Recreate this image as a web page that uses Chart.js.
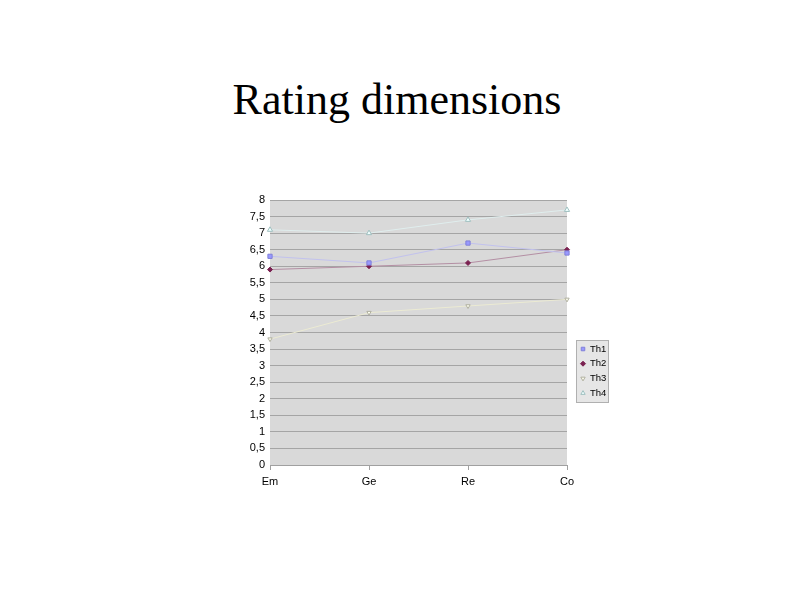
<!DOCTYPE html>
<html><head><meta charset="utf-8">
<script src="https://cdn.jsdelivr.net/npm/chart.js@4/dist/chart.umd.min.js"></script>
<style>
html,body{margin:0;padding:0;background:#fff;width:794px;height:595px;overflow:hidden;}
#title{position:absolute;left:0;top:74px;width:794px;text-align:center;font-family:"Liberation Serif","Times New Roman",serif;font-size:44px;color:#000;}
#wrap{position:absolute;left:230px;top:185px;width:390px;height:305px;}
</style></head><body>
<div id="title">Rating dimensions</div>
<div id="wrap"><canvas id="c" width="390" height="305"></canvas></div>
<script>
const categories = ["Em","Ge","Re","Co"];
const seriesNames = ["Th1","Th2","Th3","Th4"];
const th1 = [6.3, 6.1, 6.7, 6.4];
const th2 = [5.9, 6.0, 6.1, 6.5];
const th3 = [3.8, 4.6, 4.8, 5.0];
const th4 = [7.1, 7.0, 7.4, 7.7];
const yTicks = [0,0.5,1,1.5,2,2.5,3,3.5,4,4.5,5,5.5,6,6.5,7,7.5,8];

const styles = [
  {line:"#c2c2ee", fill:"#9999ff", border:"#8080d8", ps:"rect", rot:0, r:3},
  {line:"#b48fa4", fill:"#7a2050", border:"#7a2050", ps:"rectRot", rot:0, r:2.5},
  {line:"#ecebd3", fill:"#fffff0", border:"#b0b0a0", ps:"triangle", rot:180, r:2.5},
  {line:"#e0eeee", fill:"#f0ffff", border:"#a0c0c0", ps:"triangle", rot:0, r:3}
];
const allData = [th1, th2, th3, th4];

const bgPlugin = {
  id:"bg",
  beforeDraw(chart){
    const {ctx, chartArea:a} = chart;
    ctx.save(); ctx.fillStyle="#d9d9d9"; ctx.fillRect(a.left,a.top,a.right-a.left,a.bottom-a.top); ctx.restore();
  }
};
const legendPlugin = {
  id:"leg",
  afterDraw(chart){
    const ctx = chart.ctx;
    const x0 = 346, y0 = 155, w = 32, h = 62;
    ctx.save();
    ctx.fillStyle="#e6e6e6"; ctx.strokeStyle="#b0b0b0"; ctx.lineWidth=1;
    ctx.fillRect(x0+0.5,y0+0.5,w,h); ctx.strokeRect(x0+0.5,y0+0.5,w,h);
    ctx.font = "9.5px 'Liberation Sans', Arial, sans-serif";
    ctx.textBaseline="middle";
    chart.data.datasets.forEach((ds,i)=>{
      const yy = y0 + 9 + i*14.7;
      ctx.fillStyle=ds.pointBackgroundColor; ctx.strokeStyle=ds.pointBorderColor; ctx.lineWidth=1;
      Chart.helpers.drawPoint(ctx,{pointStyle:ds.pointStyle,rotation:ds.pointRotation,radius:2.5,borderWidth:1},x0+7,yy);
      ctx.fillStyle="#000";
      ctx.fillText(ds.label, x0+14, yy);
    });
    ctx.restore();
  }
};

new Chart(document.getElementById("c"),{
  type:"line",
  data:{
    labels:categories,
    datasets:seriesNames.map((n,i)=>({
      label:n, data:allData[i],
      borderColor:styles[i].line, borderWidth:1, tension:0,
      pointStyle:styles[i].ps, pointRotation:styles[i].rot, pointRadius:styles[i].r,
      pointBackgroundColor:styles[i].fill, pointBorderColor:styles[i].border, pointBorderWidth:1,
      fill:false
    }))
  },
  options:{
    responsive:false, animation:false, devicePixelRatio:1,
    layout:{padding:{left:0,right:53,top:15,bottom:0}},
    plugins:{legend:{display:false}, title:{display:false}, tooltip:{enabled:false}},
    scales:{
      x:{
        offset:false,
        grid:{display:true, drawOnChartArea:false, color:"#a0a0a0", tickLength:5},
        border:{display:true,color:"#a0a0a0"},
        ticks:{color:"#000", font:{family:"'Liberation Sans', Arial, sans-serif", size:11}, padding:5, maxRotation:0},
        afterFit(s){ s.height = 25; }
      },
      y:{
        min:0, max:8,
        afterBuildTicks(s){ s.ticks = yTicks.map(v=>({value:v})); },
        grid:{color:"#a5a5a5", drawTicks:false, lineWidth:1},
        border:{display:false},
        ticks:{color:"#000", padding:5, font:{family:"'Liberation Sans', Arial, sans-serif", size:11},
          callback:(v)=>String(v).replace(".",",")},
        afterFit(s){ s.width = 40; }
      }
    }
  },
  plugins:[bgPlugin, legendPlugin]
});
</script>
</body></html>
